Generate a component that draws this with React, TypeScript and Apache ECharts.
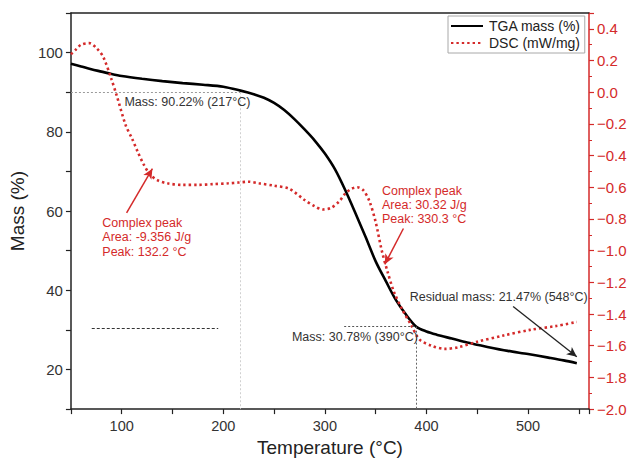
import React, { useEffect, useRef } from 'react';
import * as echarts from 'echarts';

// TGA curve (left axis, Mass %)
const tgaTemp = [50, 60, 70, 80, 90, 100, 120, 140, 160, 180, 200, 217, 230, 240, 250, 260, 270, 280, 290, 300, 310, 320, 330, 340, 350, 360, 370, 380, 390, 400, 410, 425, 440, 460, 480, 500, 520, 535, 548];
const tgaMass = [97.2, 96.5, 95.8, 95.2, 94.6, 94.1, 93.4, 92.8, 92.3, 91.9, 91.4, 90.4, 89.5, 88.6, 87.3, 85.5, 83.2, 80.6, 77.8, 74.5, 70.5, 65.3, 59.5, 53.5, 47.3, 42.3, 37.5, 33.8, 30.8, 29.6, 28.8, 27.8, 26.8, 25.7, 24.7, 23.9, 23.0, 22.3, 21.6];

// DSC curve (right axis, mW/mg)
const dscTemp = [50, 55, 60, 68, 75, 82, 90, 95, 104, 110, 116, 122, 128, 135, 145, 160, 175, 190, 205, 215, 225, 235, 250, 265, 280, 290, 298, 306, 314, 320, 326, 332, 338, 344, 350, 356, 362, 368, 376, 385, 393, 405, 418, 431, 450, 476, 502, 528, 548];
const dscValue = [0.24, 0.27, 0.30, 0.31, 0.28, 0.22, 0.08, -0.02, -0.21, -0.29, -0.38, -0.46, -0.52, -0.555, -0.575, -0.585, -0.585, -0.58, -0.575, -0.57, -0.565, -0.575, -0.59, -0.61, -0.68, -0.72, -0.74, -0.73, -0.69, -0.64, -0.61, -0.60, -0.62, -0.69, -0.82, -1.0, -1.14, -1.26, -1.37, -1.47, -1.56, -1.60, -1.62, -1.61, -1.575, -1.535, -1.50, -1.475, -1.45];

const seriesNames = ['TGA mass (%)', 'DSC (mW/mg)'];
const xAxisName = 'Temperature (°C)';
const yAxisName = 'Mass (%)';

const FONT = '"Liberation Sans", Arial, Helvetica, sans-serif';
const RED = '#d42a2a';
const DARK = '#222';

export default function App() {
  const ref = useRef<HTMLDivElement>(null);

  useEffect(() => {
    document.body.style.margin = '0';
    if (!ref.current) return;
    const chart = echarts.init(ref.current, undefined, { renderer: 'svg' });

    const dotted = (color: string, dash: number[] = [2, 2]) => ({ color, type: dash, width: 1 });

    const option: any = {
      animation: false,
      textStyle: { fontFamily: FONT },
      grid: { left: 66, right: 43, top: 13, bottom: 47 },
      legend: {
        data: seriesNames,
        orient: 'vertical',
        left: 448,
        top: 16,
        itemWidth: 32,
        itemHeight: 14,
        itemGap: 3,
        padding: [3, 4, 3, 2],
        borderColor: '#a8a8a8',
        borderWidth: 1,
        itemStyle: { opacity: 0 },
        textStyle: { fontSize: 14, color: DARK, fontFamily: FONT, padding: [0, 0, 0, 1] },
      },
      xAxis: [
        {
          type: 'value',
          min: 50,
          max: 560,
          interval: 50,
          name: xAxisName,
          nameLocation: 'middle',
          nameGap: 27,
          nameTextStyle: { fontSize: 19, color: DARK, fontFamily: FONT },
          axisLine: { onZero: false, lineStyle: { color: DARK, width: 1.5 } },
          axisTick: { length: 5, lineStyle: { color: DARK, width: 1.2 } },
          axisLabel: {
            fontSize: 14.5,
            color: '#333',
            margin: 9,
            fontFamily: FONT,
            formatter: (v: number) => (v % 100 === 0 ? String(v) : ''),
          },
          splitLine: { show: false },
        },
        {
          type: 'value',
          position: 'top',
          min: 50,
          max: 560,
          interval: 50,
          axisLine: { show: true, onZero: false, lineStyle: { color: DARK, width: 1.5 } },
          axisTick: { show: false },
          axisLabel: { show: false },
          splitLine: { show: false },
        },
      ],
      yAxis: [
        {
          type: 'value',
          min: 10,
          max: 110,
          interval: 10,
          name: yAxisName,
          nameLocation: 'middle',
          nameGap: 33,
          nameTextStyle: { fontSize: 19, color: DARK, fontFamily: FONT },
          axisLine: { show: true, onZero: false, lineStyle: { color: DARK, width: 1.5 } },
          axisTick: { length: 5, lineStyle: { color: DARK, width: 1.2 } },
          axisLabel: {
            fontSize: 15,
            color: '#333',
            margin: 8,
            fontFamily: FONT,
            formatter: (v: number) => (v % 20 === 0 && v >= 20 && v <= 100 ? String(v) : ''),
          },
          splitLine: { show: false },
        },
        {
          type: 'value',
          position: 'right',
          min: -2,
          max: 0.5,
          interval: 0.2,
          axisLine: { show: true, onZero: false, lineStyle: { color: RED, width: 1.5 } },
          axisTick: { length: 5, lineStyle: { color: RED, width: 1.2 } },
          minorTick: { show: true, splitNumber: 2, length: 3, lineStyle: { color: RED, width: 1 } },
          axisLabel: {
            fontSize: 15,
            color: RED,
            margin: 8,
            fontFamily: FONT,
            formatter: (v: number) => {
              if (v > 0.45) return '';
              if (Math.abs(v) < 1e-9) return '0.0';
              return v.toFixed(1).replace('-', '\u2212');
            },
          },
          splitLine: { show: false },
        },
      ],
      series: [
        {
          name: seriesNames[0],
          type: 'line',
          xAxisIndex: 0,
          yAxisIndex: 0,
          data: tgaTemp.map((t, i) => [t, tgaMass[i]]),
          showSymbol: false,
          symbol: 'none',
          smooth: 0.3,
          lineStyle: { color: '#000', width: 2.6 },
          itemStyle: { color: '#000' },
          z: 2,
          markLine: {
            silent: true,
            symbol: 'none',
            label: { show: false },
            data: [
              [{ coord: [50, 90], lineStyle: dotted('#9a9a9a') }, { coord: [217, 90] }],
              [{ coord: [217, 90], lineStyle: dotted('#d0d0d0') }, { coord: [217, 10] }],
              [{ coord: [319, 30.8], lineStyle: dotted('#555') }, { coord: [390, 30.8] }],
              [{ coord: [390, 30.8], lineStyle: dotted('#666') }, { coord: [390, 10] }],
              [{ coord: [70.5, 30.4], lineStyle: dotted('#333', [3, 2]) }, { coord: [195, 30.4] }],
              [
                { coord: [485.3, 35.9], symbol: 'none', lineStyle: { color: '#222', type: 'solid', width: 1.3 } },
                { coord: [548, 23.2], symbol: 'arrow', symbolSize: [7, 10] },
              ],
            ],
          },
        },
        {
          name: seriesNames[1],
          type: 'line',
          xAxisIndex: 0,
          yAxisIndex: 1,
          data: dscTemp.map((t, i) => [t, dscValue[i]]),
          showSymbol: false,
          symbol: 'none',
          smooth: 0.3,
          lineStyle: { color: RED, width: 2.6, type: [2.4, 3] },
          itemStyle: { color: RED },
          z: 3,
          markLine: {
            silent: true,
            symbol: 'none',
            label: { show: false },
            data: [
              [
                { coord: [104.8, -0.762], symbol: 'none', lineStyle: { color: RED, type: 'solid', width: 1.5 } },
                { coord: [130.2, -0.483], symbol: 'arrow', symbolSize: [7, 10] },
              ],
              [
                { coord: [377.3, -0.86], symbol: 'none', lineStyle: { color: RED, type: 'solid', width: 1.5 } },
                { coord: [359, -1.086], symbol: 'arrow', symbolSize: [7, 10] },
              ],
            ],
          },
        },
      ],
    };

    chart.setOption(option);

    const px = (pt: number[], yi: number) =>
      chart.convertToPixel({ xAxisIndex: 0, yAxisIndex: yi }, pt) as number[];

    const txt = (pt: number[], yi: number, text: string, color: string, align = 'left', vAlign = 'middle') => {
      const p = px(pt, yi);
      return {
        type: 'text',
        x: p[0],
        y: p[1],
        silent: true,
        z: 10,
        style: {
          text,
          fill: color,
          fontSize: 12.5,
          fontFamily: FONT,
          align,
          verticalAlign: vAlign,
          lineHeight: 14.3,
        },
      };
    };

    chart.setOption({
      graphic: [
        txt([102.7, 87.6], 0, 'Mass: 90.22% (217°C)', '#333'),
        txt([391.5, 28.2], 0, 'Mass: 30.78% (390°C)', '#333', 'right'),
        txt([383.5, 38.4], 0, 'Residual mass: 21.47% (548°C)', '#333'),
        txt([80.9, -0.781], 1, 'Complex peak\nArea: -9.356 J/g\nPeak: 132.2 °C', RED, 'left', 'top'),
        txt([356.2, -0.576], 1, 'Complex peak\nArea: 30.32 J/g\nPeak: 330.3 °C', RED, 'left', 'top'),
      ],
    });

    return () => chart.dispose();
  }, []);

  return <div ref={ref} style={{ width: 632, height: 462 }} />;
}
